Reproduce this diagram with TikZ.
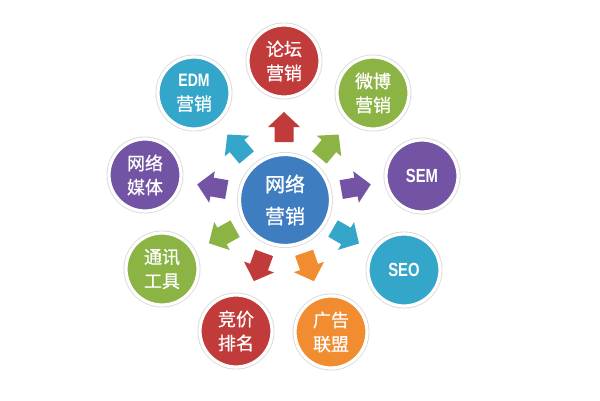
\documentclass[tikz,border=0pt]{standalone}
\usepackage{fontspec}
\newfontfamily\cjk[FakeBold=0.7]{Noto Sans CJK SC}
\newfontfamily\latn[FakeStretch=0.78]{Liberation Sans}
\definecolor{cred}{HTML}{C23B3B}
\definecolor{cteal}{HTML}{33A6C9}
\definecolor{cgreen}{HTML}{8CB444}
\definecolor{cpurple}{HTML}{7354A4}
\definecolor{cblue}{HTML}{3F7DC1}
\definecolor{corange}{HTML}{F28C30}
\tikzset{
  bubble/.style={circle, fill=#1, draw=white, line width=3.2pt, minimum size=72pt, inner sep=0pt,
    preaction={draw=black!14, line width=5pt},
    text=white, align=center, font=\cjk\fontsize{18}{24}\selectfont},
  hub/.style={bubble=#1, minimum size=91pt, font=\cjk\fontsize{20}{32}\selectfont},
  lat/.style={font=\latn\bfseries\fontsize{19}{24}\selectfont},
  barrow/.pic={\fill[pic actions] (-15,-9.5) -- (0,-9.5) -- (0,-16) -- (15,0) -- (0,16) -- (0,9.5) -- (-15,9.5) -- cycle;}
}
\begin{document}
\begin{tikzpicture}[x=1pt,y=1pt]
\useasboundingbox[fill=white] (0,0) rectangle (600,400);
% arrows
\pic[fill=cred]    at (284,273) [rotate=90]   {barrow};
\pic[fill=cteal]   at (237,254) [rotate=130]  {barrow};
\pic[fill=cgreen]  at (329,254) [rotate=50]   {barrow};
\pic[fill=cpurple] at (212,213) [rotate=170]  {barrow};
\pic[fill=cpurple] at (356,213) [rotate=10]   {barrow};
\pic[fill=cgreen]  at (222,164) [rotate=209]  {barrow};
\pic[fill=cteal]   at (346,164) [rotate=-30]  {barrow};
\pic[fill=cred]    at (259,133) [rotate=-110] {barrow};
\pic[fill=corange] at (309,133) [rotate=-71]  {barrow};
% circles
\node[hub=cblue] (hub) at (285,200) {网络\\营销};
\node[bubble=cred]    (lt)  at (284,339) {论坛\\营销};
\node[bubble=cgreen]  (wb)  at (373,307) {微博\\营销};
\node[bubble=cteal]   (edm) at (194,307) {{\latn\bfseries EDM}\\营销};
\node[bubble=cpurple, lat] (sem) at (422,224) {SEM};
\node[bubble=cpurple] (mt)  at (145,225) {网络\\媒体};
\node[bubble=cgreen]  (tx)  at (162,131) {通讯\\工具};
\node[bubble=cteal, lat]   (seo) at (404,130) {SEO};
\node[bubble=cred]    (jj)  at (236,69)  {竞价\\排名};
\node[bubble=corange] (gg)  at (331,68)  {广告\\联盟};
\end{tikzpicture}
\end{document}
